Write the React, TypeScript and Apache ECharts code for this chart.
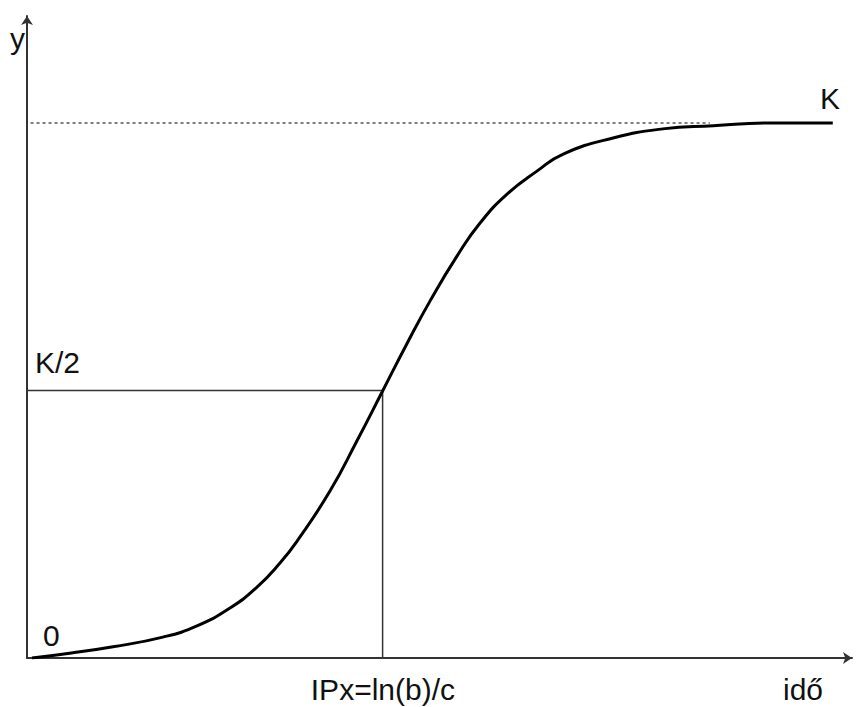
import React, { useEffect, useRef } from "react";
import * as echarts from "echarts";

// Logistic curve (time units, y as fraction of K)
const curveX = [0.07, 0.6, 1.21, 1.91, 2.39, 2.85, 3.23, 3.56, 3.8, 4.26, 4.64, 5.0, 5.34, 5.67, 6.05, 6.37, 6.75, 7.17, 7.54, 8.24, 8.94, 9.65, 10.45, 11.33];
const curveY = [0, 0.009, 0.021, 0.039, 0.06, 0.093, 0.132, 0.178, 0.219, 0.312, 0.406, 0.499, 0.587, 0.668, 0.752, 0.813, 0.867, 0.91, 0.942, 0.972, 0.989, 0.995, 1.0, 1.0];

const K = 1;
const halfK = 0.5;
const IP = 5.0;
const dashStart = 0.05;
const dashEnd = 9.6;
const xMax = 11.6;
const yMax = 1.2;

const labels = {
  y: "y",
  k: "K",
  half: "K/2",
  zero: "0",
  ip: "IPx=ln(b)/c",
  time: "idő",
};

export default function App() {
  const ref = useRef<HTMLDivElement>(null);
  useEffect(() => {
    if (!ref.current) return;
    const chart = echarts.init(ref.current, null, { renderer: "svg" });
    const font = "Liberation Sans, Arial, sans-serif";
    const txt = (text: string, x: number, y: number, align: string = "left") => ({
      type: "text",
      x,
      y,
      style: {
        text,
        fill: "#111111",
        font: `30px ${font}`,
        textAlign: align,
        textVerticalAlign: "middle",
      },
    });
    chart.setOption({
      animation: false,
      backgroundColor: "#ffffff",
      grid: { left: 27, right: 4, top: 16, bottom: 49 },
      xAxis: {
        type: "value",
        min: 0,
        max: xMax,
        axisLine: {
          show: true,
          symbol: ["none", "arrow"],
          symbolSize: [9, 9],
          lineStyle: { color: "#333", width: 2 },
        },
        axisTick: { show: false },
        axisLabel: { show: false },
        splitLine: { show: false },
      },
      yAxis: {
        type: "value",
        min: 0,
        max: yMax,
        axisLine: {
          show: true,
          symbol: ["none", "arrow"],
          symbolSize: [9, 9],
          lineStyle: { color: "#333", width: 2 },
        },
        axisTick: { show: false },
        axisLabel: { show: false },
        splitLine: { show: false },
      },
      series: [
        {
          type: "line",
          data: [
            [dashStart, K],
            [dashEnd, K],
          ],
          symbol: "none",
          lineStyle: { color: "#000", width: 1, type: [3, 3] },
          z: 1,
        },
        {
          type: "line",
          data: [
            [0, halfK],
            [IP, halfK],
            [IP, 0],
          ],
          symbol: "none",
          lineStyle: { color: "#333", width: 1.5 },
          z: 1,
        },
        {
          type: "line",
          data: curveX.map((x, i) => [x, curveY[i]]),
          symbol: "none",
          smooth: 0.5,
          lineStyle: { color: "#000", width: 3 },
          z: 3,
        },
      ],
      graphic: [
        txt(labels.y, 10, 38.6),
        txt(labels.k, 820, 98.6),
        txt(labels.half, 35, 362.6),
        txt(labels.zero, 43, 635.6),
        txt(labels.ip, 455, 689.6, "right"),
        txt(labels.time, 783, 689.6),
      ],
    });
    return () => chart.dispose();
  }, []);
  return (
    <div
      ref={ref}
      style={{ position: "fixed", left: 0, top: 0, width: 856, height: 707, background: "#fff" }}
    />
  );
}
